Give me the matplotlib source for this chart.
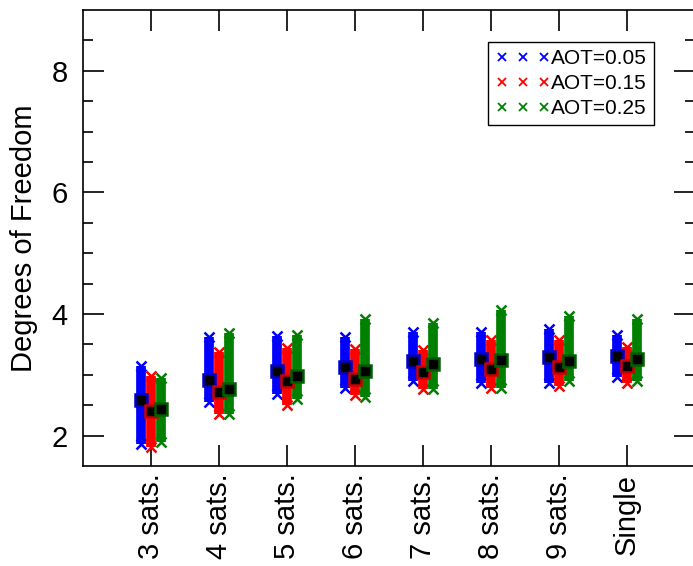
import numpy as np
import matplotlib
matplotlib.use("Agg")
import matplotlib.pyplot as plt

plt.rcParams['font.family'] = ['Liberation Sans', 'DejaVu Sans']

# --- data ---
labels = ['3 sats.', '4 sats.', '5 sats.', '6 sats.', '7 sats.', '8 sats.', '9 sats.', 'Single']
series = ['AOT=0.05', 'AOT=0.15', 'AOT=0.25']
colors = ['#0000ff', '#ff0000', '#008000']
edge_colors = ['#0000cc', '#cc0000', '#006000']

mean_005 = [2.59, 2.92, 3.07, 3.13, 3.23, 3.26, 3.29, 3.31]
mean_015 = [2.41, 2.72, 2.89, 2.93, 3.05, 3.10, 3.13, 3.15]
mean_025 = [2.44, 2.77, 2.98, 3.07, 3.18, 3.25, 3.23, 3.26]

max_005 = [3.14, 3.62, 3.63, 3.62, 3.70, 3.70, 3.75, 3.65]
max_015 = [2.98, 3.37, 3.44, 3.42, 3.41, 3.57, 3.57, 3.45]
max_025 = [2.95, 3.68, 3.65, 3.91, 3.86, 4.06, 3.96, 3.91]

min_005 = [1.87, 2.55, 2.69, 2.79, 2.89, 2.87, 2.87, 2.97]
min_015 = [1.82, 2.35, 2.51, 2.66, 2.77, 2.79, 2.81, 2.87]
min_025 = [1.89, 2.35, 2.61, 2.63, 2.76, 2.79, 2.89, 2.89]

means = [mean_005, mean_015, mean_025]
maxs = [max_005, max_015, max_025]
mins = [min_005, min_015, min_025]
offsets = [-0.15, 0.0, 0.15]

fig = plt.figure(figsize=(6.93, 5.66), dpi=100)
ax = fig.add_axes([83 / 693, 1 - 466 / 566, 612 / 693, 456 / 566])

x = np.arange(1, len(labels) + 1)
for k in range(3):
    xs = x + offsets[k]
    # dense strip of retrievals
    ax.vlines(xs, mins[k], maxs[k], color=colors[k], lw=7, zorder=2)
    ax.plot(xs, maxs[k], 'x', color=colors[k], ms=7, mew=1.8, zorder=2)
    ax.plot(xs, mins[k], 'x', color=colors[k], ms=7, mew=1.8, zorder=2)
    # mean
    ax.plot(xs, means[k], 's', mfc='black', mec=edge_colors[k], ms=8, mew=1.8,
            ls='none', zorder=3)
    # legend proxy
    ax.plot([], [], 'x', color=colors[k], ms=6, mew=1.3, label=series[k])

ax.set_xlim(0, 9)
ax.set_ylim(1.5, 9)
ax.set_xticks(x)
ax.set_xticklabels(labels, rotation=90, fontsize=21)
ax.set_yticks([2, 4, 6, 8])
ax.set_yticks(np.arange(2.5, 9, 0.5), minor=True)
ax.tick_params(axis='both', which='major', direction='in', length=15, width=1.2,
               top=True, right=True, labelsize=21)
ax.tick_params(axis='y', which='major', pad=11)
ax.tick_params(axis='x', which='major', pad=5.5)
ax.tick_params(axis='y', which='minor', direction='in', length=7.5, width=1.2,
               right=True)
ax.tick_params(axis='x', which='minor', bottom=False, top=False)
for s in ax.spines.values():
    s.set_linewidth(1.2)

ax.set_ylabel('Degrees of Freedom', fontsize=21, labelpad=10)

leg = ax.legend(loc='upper right', bbox_to_anchor=(0.933, 0.930), borderaxespad=0,
                numpoints=3, handlelength=2.6, handletextpad=0.05, fontsize=15,
                fancybox=False, framealpha=1, edgecolor='black', borderpad=0.35,
                labelspacing=0.28)
leg.get_frame().set_linewidth(1.0)

fig.savefig('out.png', dpi=100)
